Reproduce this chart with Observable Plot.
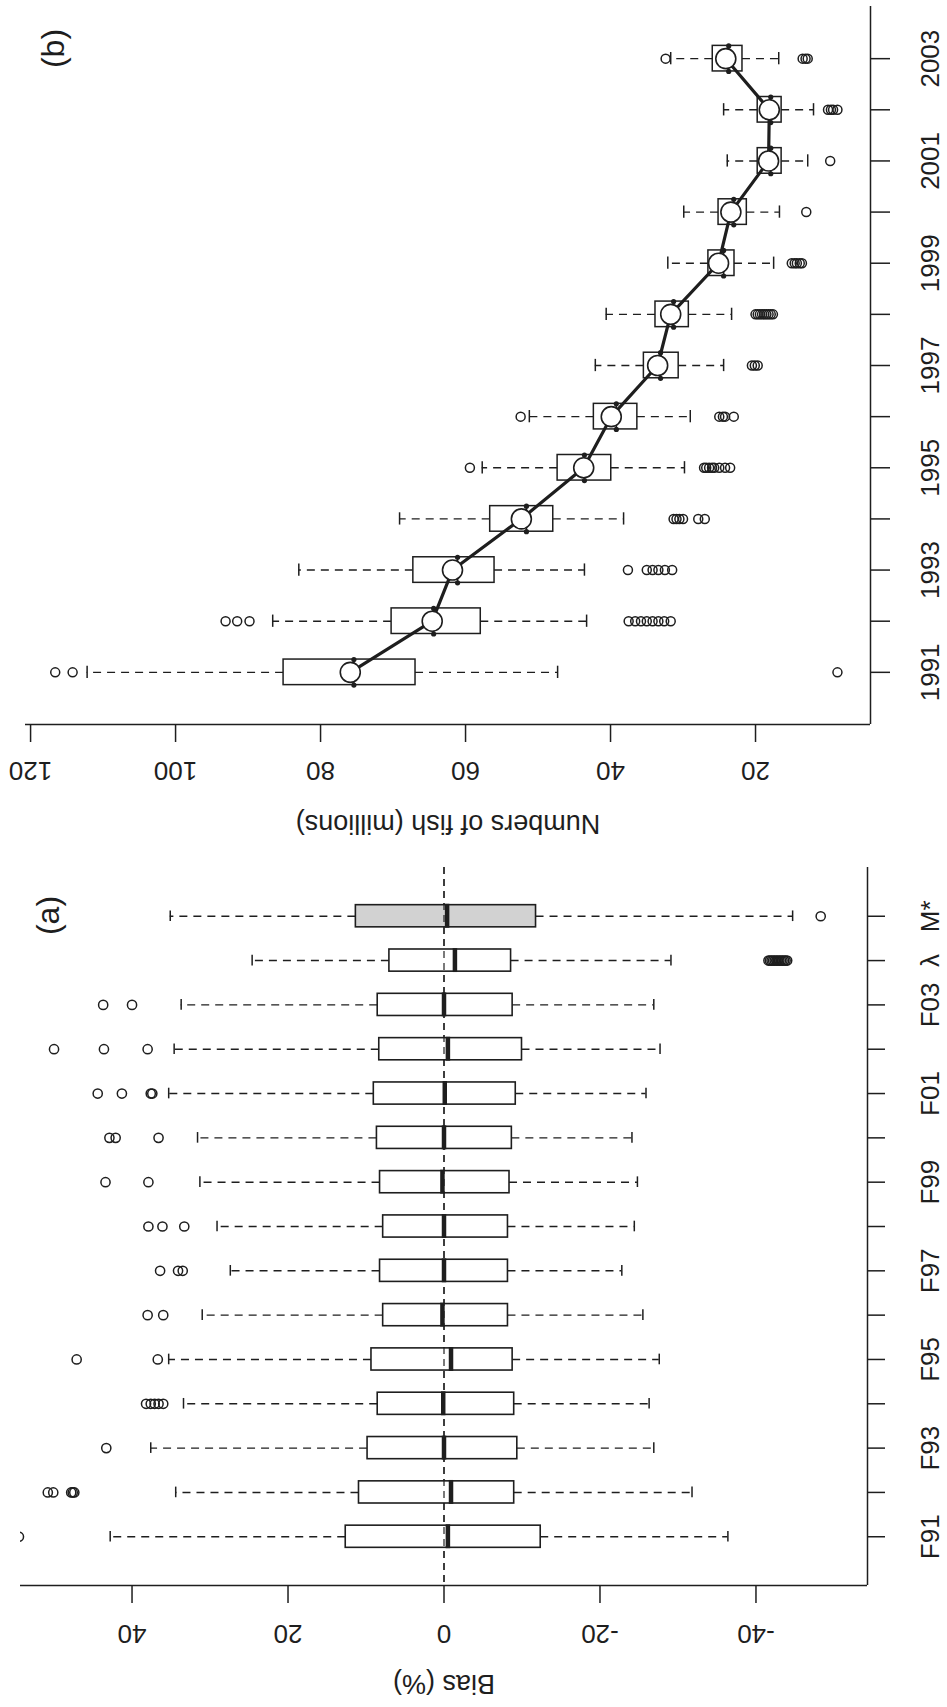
<!DOCTYPE html>
<html><head><meta charset="utf-8">
<script src="https://cdn.jsdelivr.net/npm/d3@7"></script>
<script src="https://cdn.jsdelivr.net/npm/@observablehq/plot@0.6"></script>
<style>
html,body{margin:0;padding:0;background:#fff;}
#chart{width:947px;}
#chart svg{display:block;}
</style></head><body><div id="chart"></div>
<script>
// ---------- Panel (b): Numbers of fish (millions) by year ----------
const years = [1991,1992,1993,1994,1995,1996,1997,1998,1999,2000,2001,2002,2003];
const yearLabels = [1991,1993,1995,1997,1999,2001,2003];
const fishTicks = [20,40,60,80,100,120];
const fishLo  = [47.3,43.3,43.6,38.2,29.8,29.0,24.4,23.3,17.5,16.7,12.8,12.0,16.8];
const fishQ1  = [66.9,57.9,56.0,47.9,39.9,36.3,30.6,29.2,22.9,21.2,16.4,16.4,21.8];
const fishMed = [75.4,64.4,61.1,51.6,43.6,39.2,33.1,31.3,24.4,23.0,17.9,17.9,23.7];
const fishQ3  = [85.1,70.2,67.2,56.6,47.3,42.3,35.4,33.8,26.5,25.1,19.7,19.7,25.9];
const fishHi  = [112.2,86.6,83.0,69.1,57.7,51.2,42.1,40.6,32.1,29.9,23.9,24.4,31.7];
const fishTrue = [75.9,64.6,61.8,52.3,43.7,39.9,33.5,31.7,25.1,23.4,18.2,18.1,24.1];
const fishOut = [
  [116.6,114.2,8.7],
  [93.1,91.5,89.8,37.5,36.6,35.8,35.0,34.2,33.4,32.6,31.7],
  [37.6,35.0,34.2,33.4,32.5,31.5],
  [31.3,30.9,30.5,30.0,27.9,27.0],
  [59.4,27.1,26.8,26.4,26.0,25.7,25.0,24.2,23.5],
  [52.4,25.0,24.5,24.2,23.0],
  [20.5,20.1,19.7],
  [20.0,19.7,19.4,19.1,18.8,18.5,18.2,17.9,17.6],
  [15.0,14.6,14.3,13.9,13.6],
  [13.0],
  [9.7],
  [10.0,9.6,9.3,8.7],
  [32.4,13.5,13.1,12.8]
];

// ---------- Panel (a): Bias (%) by parameter ----------
const categories = ["F91","F92","F93","F94","F95","F96","F97","F98","F99","F00","F01","F02","F03","λ","M*"];
const categoryLabels = ["F91","F93","F95","F97","F99","F01","F03","λ","M*"];
const biasTicks = [-40,-20,0,20,40];
const biasLo  = [-36.4,-31.8,-26.9,-26.3,-27.6,-25.5,-22.8,-24.4,-24.8,-24.1,-25.9,-27.7,-26.9,-29.1,-44.7];
const biasQ1  = [-12.4,-9.0,-9.4,-9.0,-8.8,-8.2,-8.2,-8.2,-8.4,-8.7,-9.2,-10.0,-8.8,-8.6,-11.8];
const biasMed = [-0.5,-0.9,0.0,0.1,-0.9,0.2,0.0,0.0,0.2,0.0,-0.1,-0.5,0.0,-1.4,-0.4];
const biasQ3  = [12.6,10.9,9.8,8.5,9.3,7.8,8.2,7.8,8.2,8.6,9.0,8.3,8.5,7.0,11.3];
const biasHi  = [42.8,34.4,37.6,33.4,35.3,31.0,27.4,29.1,31.3,31.6,35.3,34.6,33.7,24.6,35.1];
const biasOut = [
  [54.5],
  [47.4,47.6,47.8,50.1,50.8],
  [43.3],
  [36.0,36.6,37.1,37.6,38.2],
  [36.7,47.1],
  [36.0,38.0],
  [33.5,34.1,36.4],
  [33.3,36.1,37.9],
  [37.9,43.4],
  [36.6,42.1,42.9],
  [37.4,37.6,41.3,44.4],
  [38.0,43.6,50.0],
  [40.0,43.7],
  [-41.6,-41.8,-42.0,-42.2,-42.4,-42.6,-42.8,-43.0,-43.2,-43.4,-43.6,-43.8,-44.0],
  [-48.3]
];
const biasFill = ["white","white","white","white","white","white","white","white","white","white","white","white","white","white","#d2d2d2"];

// ---------- Styling ----------
const INK = "#1e1e1e";
const FONT = "'Liberation Sans', Arial, Helvetica, sans-serif";
const baseStyle = {fontFamily: FONT, background: "white", color: INK, overflow: "visible"};
const centered = {textAnchor: "middle", lineAnchor: "middle"};

// ---------- Build panel (b) ----------
const bW = 947, bH = 845, bMT = 6, bMR = 77, bMB = 121, bML = 25;
const bFW = bW - bML - bMR, bFH = bH - bMT - bMB;
const bX = [120.7, 4.14], bY = [1989.98, 2004.02];
const fishRows = years.map((yr, i) => ({year: yr, lo: fishLo[i], q1: fishQ1[i], med: fishMed[i], q3: fishQ3[i], hi: fishHi[i], truth: fishTrue[i]}));
const fishOutRows = years.flatMap((yr, i) => fishOut[i].map(v => ({year: yr, v})));
const fishMedDots = fishRows.flatMap(d => [{x: d.med, y: d.year - 0.25}, {x: d.med, y: d.year + 0.25}]);

const plotB = Plot.plot({
  width: bW, height: bH, marginTop: bMT, marginRight: bMR, marginBottom: bMB, marginLeft: bML,
  x: {domain: bX, axis: null}, y: {domain: bY, axis: null},
  style: baseStyle,
  marks: [
    Plot.ruleY([bY[0]], {stroke: INK, strokeWidth: 1.5}),
    Plot.ruleX([bX[1]], {stroke: INK, strokeWidth: 1.5}),
    Plot.ruleX(fishTicks, {x: d => d, insetTop: bFH, insetBottom: -18, stroke: INK, strokeWidth: 1.5}),
    Plot.ruleY(years, {y: d => d, insetLeft: bFW, insetRight: -20, stroke: INK, strokeWidth: 1.5}),
    Plot.text(fishTicks, {x: d => d, text: d => String(d), frameAnchor: "bottom", dy: 46, rotate: 180, fontSize: 26, fill: INK, ...centered}),
    Plot.text(yearLabels, {y: d => d, text: d => String(d), frameAnchor: "right", dx: 60, rotate: -90, fontSize: 26, fill: INK, ...centered}),
    Plot.text(["Numbers of fish (millions)"], {text: d => d, frameAnchor: "bottom", dy: 99, rotate: 180, fontSize: 27, fill: INK, ...centered}),
    Plot.text(["(b)"], {text: d => d, frameAnchor: "top-left", dx: 28, dy: 42, rotate: -90, fontSize: 32, fill: INK, ...centered}),
    Plot.ruleY(fishRows, {y: "year", x1: "q3", x2: "hi", stroke: INK, strokeWidth: 1.4, strokeDasharray: "8,6"}),
    Plot.ruleY(fishRows, {y: "year", x1: "q1", x2: "lo", stroke: INK, strokeWidth: 1.4, strokeDasharray: "8,6"}),
    Plot.ruleX(fishRows, {x: "hi", y1: d => d.year - 0.12, y2: d => d.year + 0.12, stroke: INK, strokeWidth: 1.5}),
    Plot.ruleX(fishRows, {x: "lo", y1: d => d.year - 0.12, y2: d => d.year + 0.12, stroke: INK, strokeWidth: 1.5}),
    Plot.rect(fishRows, {x1: "q1", x2: "q3", y1: d => d.year - 0.25, y2: d => d.year + 0.25, fill: "white", stroke: INK, strokeWidth: 1.5}),
    Plot.ruleX(fishRows, {x: "med", y1: d => d.year - 0.25, y2: d => d.year + 0.25, stroke: INK, strokeWidth: 1.5}),
    Plot.dot(fishMedDots, {x: "x", y: "y", r: 2.6, fill: INK}),
    Plot.dot(fishOutRows, {x: "v", y: "year", r: 4.5, fill: "none", stroke: INK, strokeWidth: 1.5}),
    Plot.line(fishRows, {x: "truth", y: "year", stroke: INK, strokeWidth: 3.2}),
    Plot.dot(fishRows, {x: "truth", y: "year", r: 10, fill: "white", stroke: INK, strokeWidth: 1.6})
  ]
});

// ---------- Build panel (a) ----------
const aW = 947, aH = 862, aMT = 22, aMR = 80, aMB = 122, aML = 20;
const aFW = aW - aML - aMR, aFH = aH - aMT - aMB;
const aX = [54.3, -54.3], aY = [-0.1, 16.1];
const catPos = c => categories.indexOf(c) + 1;
const biasRows = categories.map((c, i) => ({cat: c, pos: catPos(c), lo: biasLo[i], q1: biasQ1[i], med: biasMed[i], q3: biasQ3[i], hi: biasHi[i], fill: biasFill[i]}));
const biasOutRows = categories.flatMap((c, i) => biasOut[i].map(v => ({pos: catPos(c), v})));

const plotA = Plot.plot({
  width: aW, height: aH, marginTop: aMT, marginRight: aMR, marginBottom: aMB, marginLeft: aML,
  x: {domain: aX, axis: null}, y: {domain: aY, axis: null},
  style: baseStyle,
  marks: [
    Plot.ruleY([aY[0]], {stroke: INK, strokeWidth: 1.5}),
    Plot.ruleX([aX[1]], {stroke: INK, strokeWidth: 1.5}),
    Plot.ruleX(biasTicks, {x: d => d, insetTop: aFH, insetBottom: -18, stroke: INK, strokeWidth: 1.5}),
    Plot.ruleY(categories, {y: d => catPos(d), insetLeft: aFW, insetRight: -18, stroke: INK, strokeWidth: 1.5}),
    Plot.text(biasTicks, {x: d => d, text: d => String(d), frameAnchor: "bottom", dy: 48, rotate: 180, fontSize: 26, fill: INK, ...centered}),
    Plot.text(categoryLabels, {y: d => catPos(d), text: d => d, frameAnchor: "right", dx: 63, rotate: -90, fontSize: 26, fill: INK, ...centered}),
    Plot.text(["Bias (%)"], {text: d => d, frameAnchor: "bottom", dy: 98, rotate: 180, fontSize: 27, fill: INK, ...centered}),
    Plot.text(["(a)"], {text: d => d, frameAnchor: "top-left", dx: 28, dy: 48, rotate: -90, fontSize: 32, fill: INK, ...centered}),
    Plot.ruleX([0], {stroke: INK, strokeWidth: 1.3, strokeDasharray: "7,5"}),
    Plot.ruleY(biasRows, {y: "pos", x1: "q3", x2: "hi", stroke: INK, strokeWidth: 1.4, strokeDasharray: "8,6"}),
    Plot.ruleY(biasRows, {y: "pos", x1: "q1", x2: "lo", stroke: INK, strokeWidth: 1.4, strokeDasharray: "8,6"}),
    Plot.ruleX(biasRows, {x: "hi", y1: d => d.pos - 0.12, y2: d => d.pos + 0.12, stroke: INK, strokeWidth: 1.5}),
    Plot.ruleX(biasRows, {x: "lo", y1: d => d.pos - 0.12, y2: d => d.pos + 0.12, stroke: INK, strokeWidth: 1.5}),
    Plot.rect(biasRows, {x1: "q1", x2: "q3", y1: d => d.pos - 0.25, y2: d => d.pos + 0.25, fill: "fill", stroke: INK, strokeWidth: 1.6}),
    Plot.ruleX([0], {stroke: INK, strokeWidth: 1.3, strokeDasharray: "7,5", strokeOpacity: 0.9}),
    Plot.ruleX(biasRows, {x: "med", y1: d => d.pos - 0.27, y2: d => d.pos + 0.27, stroke: INK, strokeWidth: 4.5}),
    Plot.dot(biasOutRows, {x: "v", y: "pos", r: 4.6, fill: "none", stroke: INK, strokeWidth: 1.5, clip: true})
  ]
});

const chart = document.getElementById("chart");
chart.appendChild(plotB);
chart.appendChild(plotA);
</script>
</body></html>
